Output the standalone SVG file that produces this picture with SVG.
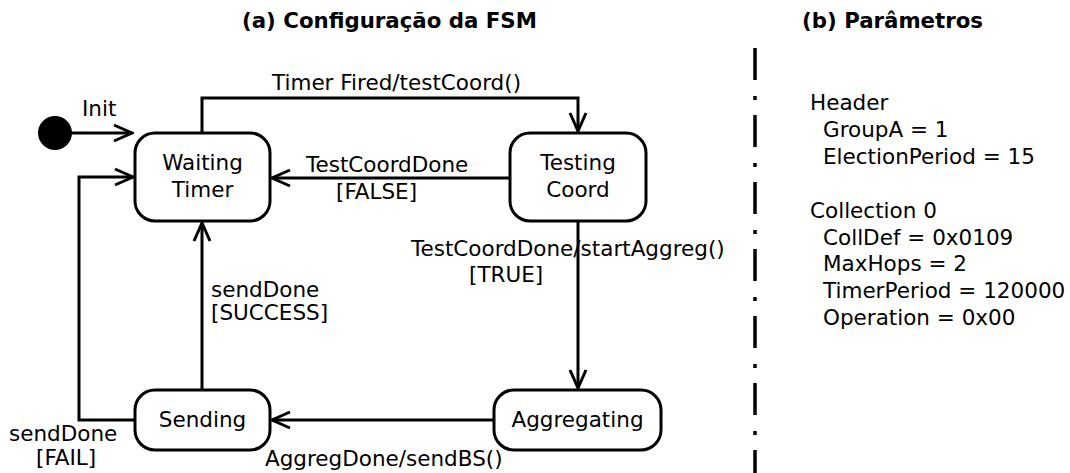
<svg xmlns="http://www.w3.org/2000/svg" width="1070" height="473" viewBox="0 0 1070 473">
<style>
text { font-family: "DejaVu Sans", "Bitstream Vera Sans", sans-serif; font-size: 21.5px; fill: #000; }
.title { font-weight: bold; font-size: 21.3px; }
.mid { text-anchor: middle; }
.state { fill: #fff; stroke: #000; stroke-width: 3; }
.conn { fill: none; stroke: #000; stroke-width: 3; marker-end: url(#arr); }
</style>
<defs>
<marker id="arr" viewBox="-22 -11 24 22" refX="0" refY="0" markerWidth="24" markerHeight="22" markerUnits="userSpaceOnUse" orient="auto">
<path d="M-18,-8 L0,0 L-18,8" fill="none" stroke="#000" stroke-width="3" stroke-linejoin="miter"/>
</marker>
</defs>
<rect width="1070" height="473" fill="#fff"/>

<text class="title" x="242" y="28">(a) Configuração da FSM</text>
<text class="title" x="802" y="28">(b) Parâmetros</text>

<line x1="755" y1="48" x2="755" y2="473" stroke="#000" stroke-width="3.5" stroke-dasharray="32 16 4 15"/>

<g id="params">
<text x="810" y="110">Header</text>
<text x="823" y="136.9">GroupA = 1</text>
<text x="823" y="163.8">ElectionPeriod = 15</text>
<text x="810" y="217.6">Collection 0</text>
<text x="823" y="244.5">CollDef = 0x0109</text>
<text x="823" y="271.4">MaxHops = 2</text>
<text x="823" y="298.3">TimerPeriod = 120000</text>
<text x="823" y="325.2">Operation = 0x00</text>
</g>

<g id="connectors">
<line class="conn" x1="55" y1="133" x2="132" y2="133"/>
<polyline class="conn" points="202,133 202,98 578,98 578,131"/>
<line class="conn" x1="510" y1="178" x2="272" y2="178"/>
<line class="conn" x1="578" y1="221" x2="578" y2="388"/>
<line class="conn" x1="494" y1="420" x2="272" y2="420"/>
<line class="conn" x1="202" y1="390" x2="202" y2="223"/>
<polyline class="conn" points="135,420 79,420 79,177 133,177"/>
<text x="82" y="116">Init</text>
<text x="272" y="90">Timer Fired/testCoord()</text>
<text x="306" y="172">TestCoordDone</text>
<text x="336" y="199">[FALSE]</text>
<text x="411" y="256">TestCoordDone/startAggreg()</text>
<text x="469" y="282">[TRUE]</text>
<text x="211" y="297">sendDone</text>
<text x="211" y="320">[SUCCESS]</text>
<text x="9" y="441">sendDone</text>
<text x="36" y="465">[FAIL]</text>
<text x="265" y="466">AggregDone/sendBS()</text>
</g>

<g id="init">
<circle cx="55" cy="133" r="17" fill="#000"/>
</g>

<g id="waiting">
<rect class="state" x="135" y="133" width="135" height="88" rx="20"/>
<text class="mid" x="202.5" y="170">Waiting</text>
<text class="mid" x="202.5" y="197">Timer</text>
</g>

<g id="testing">
<rect class="state" x="510" y="133" width="136" height="88" rx="20"/>
<text class="mid" x="578" y="170">Testing</text>
<text class="mid" x="578" y="197">Coord</text>
</g>

<g id="sending">
<rect class="state" x="135" y="390" width="135" height="60" rx="20"/>
<text class="mid" x="202.5" y="427">Sending</text>
</g>

<g id="aggregating">
<rect class="state" x="494" y="390" width="167" height="60" rx="20"/>
<text class="mid" x="577.5" y="427">Aggregating</text>
</g>
</svg>
